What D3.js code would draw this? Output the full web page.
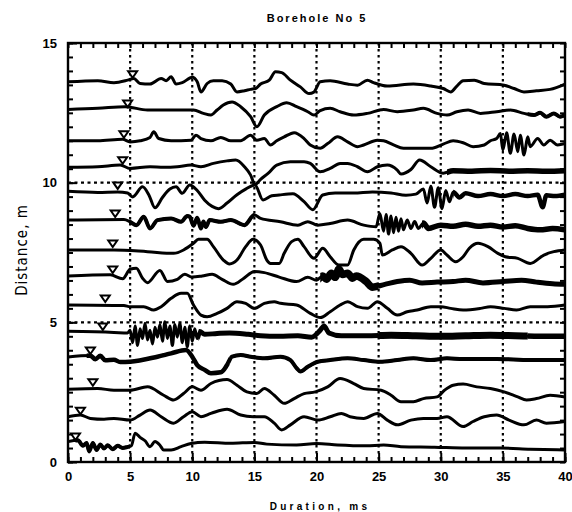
<!DOCTYPE html>
<html>
<head>
<meta charset="utf-8">
<script src="https://cdn.jsdelivr.net/npm/d3@7"></script>
<style>
  body { margin: 0; background: #fff; }
  svg { display: block; }
  .tick-label { font-family: "Liberation Sans", Arial, sans-serif; font-weight: bold; font-size: 13px; }
</style>
</head>
<body>
<script>
// axis values
const timeMajor = [0, 5, 10, 15, 20, 25, 30, 35, 40]
const distMajor = [0, 5, 10, 15]
const gridTimes = [5, 10, 15, 20, 25, 30, 35]
const gridDists = [5, 10]

// receiver depth of every trace (m), top to bottom
const baselines = [13.65, 12.6, 11.5, 10.57, 9.67, 8.66, 7.59, 6.66, 5.62, 4.62, 3.76, 2.62, 1.6, 0.68]
// first-arrival picks (ms)
const pickTimes = [5.2, 4.8, 4.5, 4.4, 4.0, 3.8, 3.6, 3.6, 3.0, 2.8, 1.8, 2.0, 1.0, 0.6]

// traces: [time ms, amplitude cm]
const trace1 = [[0,-4],[2.4,0],[3.7,-7],[4.8,2],[5.3,8],[5.8,-10],[6.6,-12],[7.5,8],[7.9,0],[8.3,14],[8.7,-12],[9.2,-7],[10,12],[10.4,-4],[10.7,-40],[11.2,-10],[11.7,0],[12.4,0],[13.1,-12],[13.6,-40],[14.2,-36],[14.7,-31],[15.1,-28],[15.5,-12],[16.2,2],[16.7,32],[17.2,29],[17.9,2],[18.7,-22],[19.4,-46],[19.8,-40],[20.3,-4],[21.1,0],[22.5,-12],[23.3,-16],[24.1,2],[24.6,-7],[25.7,-19],[27.8,-12],[29.2,-19],[30.2,-28],[30.8,-40],[31.3,-19],[31.8,0],[32.7,2],[33.5,-10],[35.1,-16],[35.9,-28],[36.7,-40],[37.7,-36],[38.8,-31],[40,-12]]
const trace2 = [[0,2],[2.4,6],[4.6,12],[6.4,0],[8.5,0],[10.1,0],[10.9,-12],[11.5,-18],[12,0],[12.5,18],[13.2,29],[13.9,12],[14.7,-24],[15.2,-60],[15.8,-18],[16.8,12],[17.6,26],[18.4,12],[19.3,-6],[19.8,-18],[20.3,-2],[21.1,6],[21.9,-6],[23,-18],[24.1,-12],[25.4,2],[26.5,-6],[27.8,0],[28.6,6],[29.7,-12],[30.5,-18],[31.3,-6],[32.2,0],[33.2,-12],[34.5,-6],[35.6,0],[36.7,-12],[37.5,-18],[38,-10],[38.5,-24],[39.1,-12],[39.6,-24],[40,-18]]
const trace3 = [[0,0],[2.4,0],[4.4,5],[5,-4],[5.8,0],[6.6,12],[6.9,32],[7.3,8],[8.3,0],[9.9,2],[10.3,20],[10.7,8],[11.5,0],[12.3,12],[13.1,0],[13.9,0],[14.7,20],[15.2,2],[15.8,8],[16.3,-15],[16.8,0],[17.4,14],[18.2,29],[19,8],[19.5,-15],[20.3,-27],[20.9,-10],[21.7,14],[22.5,-4],[23.3,-21],[23.8,-15],[24.9,2],[25.4,0],[26.2,-15],[27,-27],[28.1,-27],[29.2,-27],[30.2,-12],[31,0],[31.8,-7],[32.6,-21],[33.5,-15],[34,0],[34.5,8],[34.8,26],[35,-33],[35.3,29],[35.6,-45],[35.9,24],[36.2,-39],[36.4,20],[36.7,-51],[37,14],[37.2,-21],[37.8,8],[38.3,-15],[38.8,2],[39.4,-15],[40,-10]]
const trace4 = [[0,-2],[2.4,0],[4.2,6],[5,-6],[6.6,0],[7.7,-2],[8.8,0],[9.9,6],[10.7,0],[11.7,12],[12.8,21],[13.5,24],[14.2,0],[14.7,-30],[15.05,-64],[15.5,-45],[16.1,-24],[16.8,6],[17.9,18],[19,18],[19.5,12],[20.3,-18],[21.1,-6],[21.9,12],[22.5,12],[23.3,0],[24.1,-18],[24.9,0],[25.7,6],[26.5,-12],[26.8,-26],[27.6,-10],[28.3,24],[29.2,0],[30.2,-23],[31,-14],[32.5,-16],[34,-13],[35.5,-16],[37,-14],[38.5,-16],[40,-14]]
const trace5 = [[0,2],[2.4,-2],[4,0],[4.8,-4],[5.2,-18],[6,18],[6.5,-10],[7,-57],[7.6,-20],[8.2,10],[8.7,18],[9.2,-5],[9.8,25],[10.4,5],[11,-30],[11.6,-52],[12.1,-60],[12.8,-40],[13.6,-10],[14.3,10],[15.05,25],[15.7,-29],[16.4,-14],[17,-11],[18.1,-7],[19,-35],[19.7,-64],[20.5,-11],[21.5,-4],[23,-4],[24.5,0],[26,-4],[27.2,-12],[28,-8],[28.6,10],[28.9,-40],[29.2,20],[29.5,-55],[29.8,15],[30.1,-60],[30.4,5],[30.7,-35],[31,0],[31.5,-20],[32,-5],[33,-15],[34,-8],[35,-15],[36,-8],[37,-15],[37.8,-10],[38.2,-55],[38.5,-12],[39.2,-15],[40,-10]]
const trace6 = [[0,0],[4.5,2],[5,-6],[5.5,-18],[6.1,12],[6.6,-30],[7.2,0],[8.3,6],[9.1,-6],[9.6,15],[9.8,12],[10.1,-20],[10.4,8],[10.7,-30],[10.9,-5],[11.1,-25],[11.4,0],[12.3,-6],[13.1,0],[14.2,-18],[15,18],[15.5,6],[17.1,-6],[18.5,-18],[19.3,-6],[20.1,-18],[21.1,-12],[22.5,0],[23.8,-18],[24.8,-24],[25.1,24],[25.4,-40],[25.6,20],[25.8,-50],[26,15],[26.2,-45],[26.4,10],[26.6,-40],[26.8,5],[27,-35],[27.3,0],[27.6,-30],[27.9,-5],[28.2,-30],[28.6,-10],[29,-30],[30,-18],[31,-22],[32,-15],[33,-22],[34,-18],[35,-25],[36,-20],[37,-30],[38,-35],[39,-30],[40,-35]]
const trace7 = [[0,0],[3.7,0],[6.4,-6],[8.5,-12],[9.3,0],[10.1,24],[10.5,38],[11.2,38],[11.7,12],[12.5,-36],[13,-50],[13.6,-36],[14.3,12],[14.9,38],[15.5,18],[16,-36],[16.3,-48],[17,-48],[17.4,-12],[18,30],[18.5,38],[19,12],[19.8,-30],[20.5,6],[21.1,-24],[21.8,-54],[22.5,-54],[23,0],[23.8,38],[24.6,38],[25.1,24],[25.3,-18],[26.1,0],[26.8,12],[27.6,-12],[28.5,-54],[29.2,-30],[30,0],[30.5,-18],[31.2,-42],[31.8,-24],[32.3,6],[33,24],[33.8,12],[34.6,-12],[35.2,-24],[36.2,-30],[37.2,-48],[38.3,-18],[39.1,-6],[40,0]]
const trace8 = [[0,0],[3.4,4],[4.4,-10],[5,24],[5.5,28],[6,-8],[6.4,-24],[7.4,20],[8,-20],[8.8,-12],[9.4,6],[10,-4],[10.8,0],[11.6,6],[12.4,-12],[13.3,-30],[14.1,-10],[15,16],[15.8,12],[17,-4],[18.4,-20],[19.3,-5],[20,-15],[20.5,0],[20.8,-12],[21.2,10],[21.5,-5],[21.8,25],[22.1,5],[22.5,10],[22.9,-8],[23.2,0],[24,-20],[24.5,-40],[25.5,-30],[26.5,-20],[27.5,-15],[28.5,-25],[29.7,-22],[31,-20],[32,-15],[33.4,-25],[35,-20],[36.5,-15],[37.7,-22],[39,-28],[40,-30]]
const trace9 = [[0,0],[4.5,-2],[5,-6],[6.1,-6],[6.9,-18],[7.5,-6],[8.3,24],[9.1,42],[9.6,42],[10.1,0],[10.7,-36],[11.2,-42],[12,-30],[12.8,-12],[13.6,12],[14.3,6],[15,-12],[15.8,6],[16.6,12],[17.1,6],[18.4,0],[19.5,-30],[20.3,-45],[21.1,-24],[21.9,0],[22.5,12],[23.3,-6],[24.1,-12],[24.9,12],[25.7,-12],[26.5,-36],[27.3,-24],[28.1,-18],[29.2,-6],[30,-6],[30.8,-12],[31.8,-18],[33.2,-12],[34,-6],[35.1,-12],[36.1,-18],[37.2,-6],[38.6,-6],[40,0]]
const trace10 = [[0,6],[3.7,2],[4.8,0],[5,10],[5.2,-35],[5.4,25],[5.6,-45],[5.8,15],[6,-20],[6.2,35],[6.4,-25],[6.6,10],[6.8,-40],[7,20],[7.2,-15],[7.4,30],[7.6,-30],[7.8,40],[8,-20],[8.2,25],[8.4,-45],[8.6,30],[8.8,-15],[9,35],[9.2,-35],[9.4,20],[9.6,-50],[9.8,25],[10,-30],[10.2,15],[10.4,-20],[10.6,5],[11,-5],[12,-2],[13,0],[14.5,-5],[15.5,-10],[17,-12],[18.5,-10],[19.6,-15],[20.3,10],[20.6,25],[21,0],[22,-10],[24,-10],[26,-8],[28,-10],[30,-12],[32,-10],[34,-8],[36,-10],[38,-12],[40,-12]]
const trace11 = [[0,0],[1.8,5],[2.2,-8],[2.6,4],[3,-12],[3.7,-10],[4.2,-18],[5,-17],[7.2,1],[8.3,13],[9.5,25],[10,1],[10.4,-29],[11,-46],[11.5,-58],[12.3,-55],[12.8,-29],[13.2,1],[13.9,7],[14.7,1],[15.8,-5],[17.1,1],[17.9,-11],[18.4,-40],[18.7,-52],[19.3,-35],[20.1,-17],[21.1,-11],[22.5,-5],[23.8,-11],[25.1,-17],[26.5,-11],[27.8,-5],[29.2,-11],[30.5,-5],[31.8,-7],[34.5,-7],[37.2,-11],[40,-11]]
const trace12 = [[0,-2],[2.4,1],[3.7,-5],[5,-5],[6.4,7],[7.7,-23],[8.5,-40],[9.3,-17],[10,7],[10.7,-5],[11.5,19],[12.8,33],[13.6,13],[14.4,-11],[15.2,-17],[15.8,1],[16.6,-23],[17.4,-52],[18.2,-35],[19,-17],[19.9,-11],[20.9,7],[21.9,37],[23,19],[23.8,1],[25.2,-5],[26,-23],[26.8,-46],[27.8,-46],[28.6,-35],[29.7,-29],[30.3,-5],[31,13],[31.8,17],[32.9,7],[34,1],[35.1,-11],[36.2,-29],[36.9,-40],[37.7,-35],[38.8,-23],[40,-29]]
const trace13 = [[0,2],[1,8],[1.8,-4],[2.9,-7],[3.7,-4],[5,-10],[5.8,8],[6.6,26],[7.5,2],[8.5,-21],[9.3,2],[10,20],[10.7,2],[11.5,14],[12.8,29],[13.9,8],[14.9,2],[15.8,2],[16.6,-21],[17.2,-45],[17.9,-27],[19,2],[20.1,-10],[21.1,2],[22,14],[22.7,2],[23.8,-4],[24.9,14],[25.7,-10],[26.5,-27],[27.6,-10],[28.6,-4],[29.7,-4],[30.5,2],[31.8,-33],[32.6,-15],[33.5,2],[34.5,8],[35.5,-10],[36.7,-27],[37.7,-10],[38.5,-21],[40,-15]]
const trace14 = [[0,5],[0.8,10],[1.2,-10],[1.5,0],[1.7,-30],[2,0],[2.3,-25],[2.6,-5],[2.9,-20],[3.2,-8],[3.6,-22],[4,-10],[4.4,-18],[4.8,-14],[5.1,-10],[5.4,35],[5.8,20],[6.2,8],[6.6,-13],[7,5],[7.4,-8],[7.7,-25],[8.3,-25],[9.1,-13],[9.9,-2],[11,3],[13.1,-1],[15,2],[16,-4],[18.4,-7],[20,-2],[21.7,-7],[24,-10],[25.4,-7],[26.8,-13],[29.5,-15],[32,-18],[34.8,-18],[37.2,-22],[40,-25]]

const traces = [trace1, trace2, trace3, trace4, trace5, trace6, trace7, trace8, trace9, trace10, trace11, trace12, trace13, trace14]

// noisy stretches drawn as a thicker band: [from ms, to ms, stroke width]
const noisyBands = [[], [[37, 40, 4]], [], [[30.5, 40, 5.5]], [[31, 40, 4.5]], [[5, 15, 4], [28.5, 40, 5.5]], [], [[20.3, 25, 7.5], [25, 40, 5]], [], [[10.5, 25, 5], [25, 37, 7], [37, 40, 5.5]], [[1.5, 13, 4.5], [13, 40, 4]], [], [], [[0.6, 5, 4]]]

const svgWidth = 572
const svgHeight = 512
const margin = { top: 43, bottom: 50, right: 7, left: 68 }
const width = 565 - margin.left
const height = 462 - margin.top

const svg = d3.select('body')
    .append('svg')
    .attr('width', svgWidth)
    .attr('height', svgHeight)

const chartGroup = svg.append('g')
    .attr('transform', `translate(${margin.left}, ${margin.top})`)

const x = d3.scaleLinear().domain([0, 40]).range([0, width])
const y = d3.scaleLinear().domain([0, 15]).range([height, 0])

// dotted grid
chartGroup.selectAll('.vgrid')
    .data(gridTimes)
    .enter()
    .append('line')
    .attr('x1', d => x(d)).attr('x2', d => x(d))
    .attr('y1', 0).attr('y2', height)
    .attr('stroke', '#000')
    .attr('stroke-width', 2.2)
    .attr('stroke-dasharray', '2.5,3.5')

chartGroup.selectAll('.hgrid')
    .data(gridDists)
    .enter()
    .append('line')
    .attr('x1', 0).attr('x2', width)
    .attr('y1', d => y(d)).attr('y2', d => y(d))
    .attr('stroke', '#000')
    .attr('stroke-width', 2.2)
    .attr('stroke-dasharray', '3,3.5')

// traces
const defs = svg.append('defs')
traces.forEach(function(tr, i) {
    const base = baselines[i]
    const line = d3.line()
        .x(d => x(d[0]))
        .y(d => y(base + d[1] / 100))
        .curve(d3.curveMonotoneX)

    chartGroup.append('path')
        .datum(tr)
        .attr('d', line)
        .attr('fill', 'none')
        .attr('stroke', '#000')
        .attr('stroke-width', 3)
        .attr('stroke-linejoin', 'round')

    noisyBands[i].forEach(function(b, j) {
        const id = `clip-${i}-${j}`
        defs.append('clipPath').attr('id', id)
            .append('rect')
            .attr('x', x(b[0])).attr('width', x(b[1]) - x(b[0]))
            .attr('y', -10).attr('height', height + 20)
        chartGroup.append('path')
            .datum(tr)
            .attr('d', line)
            .attr('clip-path', `url(#${id})`)
            .attr('fill', 'none')
            .attr('stroke', '#000')
            .attr('stroke-width', b[2])
            .attr('stroke-linejoin', 'round')
    })
})

// first arrival markers
chartGroup.selectAll('.pick')
    .data(pickTimes)
    .enter()
    .append('path')
    .attr('d', 'M-4.5,-3.5L4.5,-3.5L0,3Z')
    .attr('transform', (d, i) => `translate(${x(d)}, ${y(baselines[i]) - 6})`)
    .attr('fill', '#fff')
    .attr('stroke', '#000')
    .attr('stroke-width', 2)

// frame
chartGroup.append('rect')
    .attr('width', width)
    .attr('height', height)
    .attr('fill', 'none')
    .attr('stroke', '#000')
    .attr('stroke-width', 2.4)

// minor ticks (inward)
const minorX = d3.range(0, 41, 1)
const minorY = d3.range(0, 15.01, 0.5)
chartGroup.append('g').attr('transform', `translate(0, ${height})`)
    .call(d3.axisBottom(x).tickValues(minorX).tickSize(-5).tickFormat(''))
chartGroup.append('g')
    .call(d3.axisTop(x).tickValues(minorX).tickSize(-5).tickFormat(''))
chartGroup.append('g')
    .call(d3.axisLeft(y).tickValues(minorY).tickSize(-5).tickFormat(''))
chartGroup.append('g').attr('transform', `translate(${width}, 0)`)
    .call(d3.axisRight(y).tickValues(minorY).tickSize(-5).tickFormat(''))

// major ticks with labels
const xAxis = chartGroup.append('g').attr('transform', `translate(0, ${height})`)
    .call(d3.axisBottom(x).tickValues(timeMajor).tickSize(-9).tickPadding(10).tickFormat(d3.format('d')))
const yAxis = chartGroup.append('g')
    .call(d3.axisLeft(y).tickValues(distMajor).tickSize(-9).tickPadding(11).tickFormat(d3.format('d')))

chartGroup.selectAll('.tick line').attr('stroke', '#000').attr('stroke-width', 2)
chartGroup.selectAll('.domain').remove()
xAxis.selectAll('text').attr('class', 'tick-label').attr('fill', '#000')
yAxis.selectAll('text').attr('class', 'tick-label').attr('fill', '#000')

// titles
svg.append('text')
    .attr('x', 317).attr('y', 22)
    .attr('text-anchor', 'middle')
    .style('font-family', '"Liberation Sans", Arial, sans-serif')
    .style('font-weight', 'bold')
    .style('font-size', '11px')
    .style('letter-spacing', '2px')
    .text('Borehole No 5')

svg.append('text')
    .attr('x', 320).attr('y', 510)
    .attr('text-anchor', 'middle')
    .style('font-family', '"Liberation Sans", Arial, sans-serif')
    .style('font-weight', 'bold')
    .style('font-size', '10px')
    .style('letter-spacing', '3.3px')
    .text('Duration, ms')

svg.append('text')
    .attr('transform', 'translate(27, 250) rotate(-90)')
    .attr('text-anchor', 'middle')
    .style('font-family', '"DejaVu Sans Condensed", "Liberation Sans Narrow", sans-serif')
    .style('font-size', '15px')
    .style('letter-spacing', '1px')
    .attr('fill', '#000')
    .text('Distance, m')
</script>
</body>
</html>
